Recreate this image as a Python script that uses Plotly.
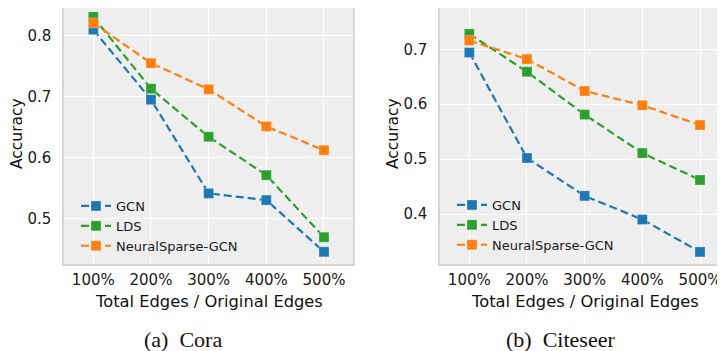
import plotly.graph_objects as go

# ---- data ----
x_labels = ["100%", "200%", "300%", "400%", "500%"]
series_names = ["GCN", "LDS", "NeuralSparse-GCN"]

cora_gcn = [0.810, 0.695, 0.541, 0.530, 0.445]
cora_lds = [0.831, 0.713, 0.634, 0.571, 0.469]
cora_ns = [0.821, 0.755, 0.712, 0.651, 0.612]

cite_gcn = [0.694, 0.502, 0.433, 0.390, 0.331]
cite_lds = [0.728, 0.659, 0.581, 0.511, 0.462]
cite_ns = [0.716, 0.682, 0.624, 0.598, 0.562]

cora_yticks = [0.5, 0.6, 0.7, 0.8]
cite_yticks = [0.4, 0.5, 0.6, 0.7]

colors = ["#1f77b4", "#2ca02c", "#ff7f0e"]

# page body has an 8px margin; work in screen pixels and convert
OFF = 8
W, H = 725 - OFF, 351 - OFF
FONT = "DejaVu Sans"


def px(sx):
    return (sx - OFF) / W


def py(sy):
    return 1 - (sy - OFF) / H


fig = go.Figure()


def add_series(vals_list, xa, ya, legend):
    for name, vals, c in zip(series_names, vals_list, colors):
        fig.add_trace(go.Scatter(
            x=x_labels, y=vals, name=name, mode="lines+markers",
            xaxis=xa, yaxis=ya, legend=legend,
            line=dict(color=c, width=2.2, dash="8px,4px"),
            marker=dict(symbol="square", size=10, color=c,
                        line=dict(color="rgba(255,255,255,0.35)", width=0.8)),
        ))


add_series([cora_gcn, cora_lds, cora_ns], "x", "y", "legend")
add_series([cite_gcn, cite_lds, cite_ns], "x2", "y2", "legend2")

ydom = [py(264), 1.0]

base = dict(
    showgrid=True, gridcolor="white", gridwidth=1.2,
    showline=True, linecolor="#d6d6d6", linewidth=1.5, mirror=True,
    zeroline=False, automargin=False,
    tickcolor="rgba(0,0,0,0)", ticks="outside",
    tickfont=dict(family=FONT, size=15, color="#1a1a1a"),
)
xbase = dict(base, ticklen=1)
ybase = dict(base, ticklen=8)

legend_font = dict(family=FONT, size=13, color="#1a1a1a")

fig.update_layout(
    width=W, height=H,
    margin=dict(l=0, r=0, t=0, b=0),
    paper_bgcolor="white",
    plot_bgcolor="#eeeeee",
    font=dict(family=FONT, color="#1a1a1a"),
    xaxis=dict(domain=[px(64), px(353)], anchor="y", type="category",
               range=[-0.508, 4.503], **xbase),
    yaxis=dict(domain=ydom, anchor="x", range=[0.425, 0.8456],
               tickvals=cora_yticks, ticktext=[f"{v:.1f}" for v in cora_yticks],
               **ybase),
    xaxis2=dict(domain=[px(440), 1.0], anchor="y2", type="category",
                range=[-0.508, 4.433], **xbase),
    yaxis2=dict(domain=ydom, anchor="x2", range=[0.309, 0.7751],
                tickvals=cite_yticks, ticktext=[f"{v:.1f}" for v in cite_yticks],
                **ybase),
    legend=dict(x=px(76), y=py(191), xanchor="left", yanchor="top",
                bgcolor="rgba(0,0,0,0)", font=legend_font,
                itemwidth=30, tracegroupgap=0),
    legend2=dict(x=px(452), y=py(190), xanchor="left", yanchor="top",
                 bgcolor="rgba(0,0,0,0)", font=legend_font,
                 itemwidth=30, tracegroupgap=0),
    showlegend=True,
)


def ann(text, x, y, size, family=FONT, angle=0):
    fig.add_annotation(text=text, x=px(x), y=py(y), xref="paper", yref="paper",
                       xanchor="center", yanchor="middle", showarrow=False,
                       textangle=angle, font=dict(family=family, size=size, color="#111111"))


ann("Total Edges / Original Edges", 208.5, 301.5, 16.3)
ann("Total Edges / Original Edges", 585, 301.5, 16.3)
ann("Accuracy", 17, 134, 15.5, angle=-90)
ann("Accuracy", 393, 134, 15.5, angle=-90)
ann("(a)  Cora", 182.5, 339, 22, family="Liberation Serif")
ann("(b)  Citeseer", 560, 339, 22, family="Liberation Serif")

fig.write_html("out.html")
